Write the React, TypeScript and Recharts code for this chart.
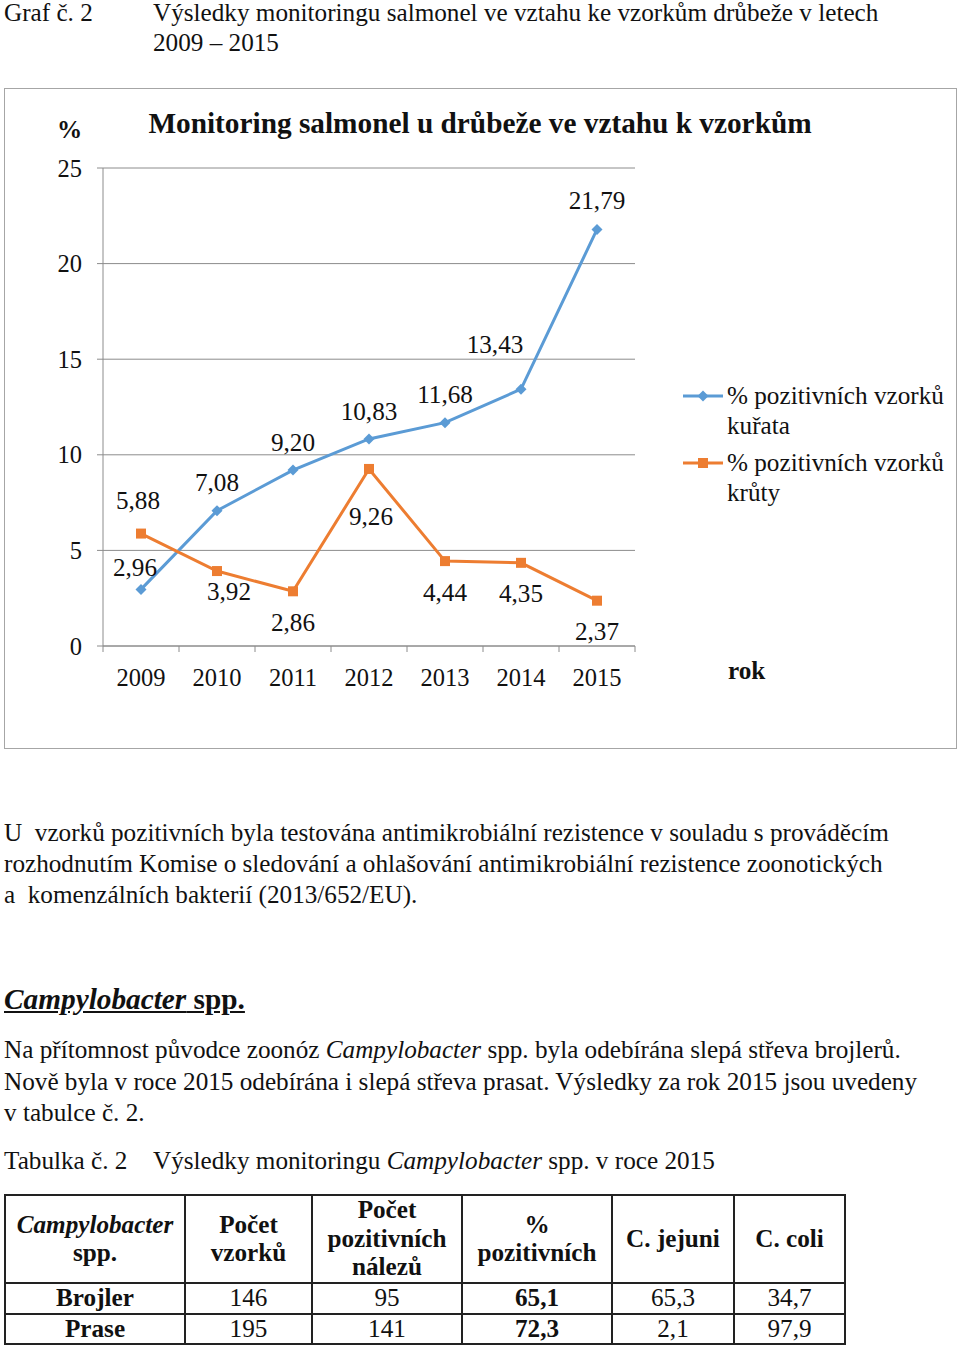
import React from "react";
import {
  LineChart,
  Line,
  XAxis,
  YAxis,
  CartesianGrid,
  Legend,
  LabelList,
} from "recharts";

const years = ["2009", "2010", "2011", "2012", "2013", "2014", "2015"];
const kurata = [2.96, 7.08, 9.2, 10.83, 11.68, 13.43, 21.79];
const kruty = [5.88, 3.92, 2.86, 9.26, 4.44, 4.35, 2.37];
const yTicks = [0, 5, 10, 15, 20, 25];

// table
const tableRows = ["Brojler", "Prase"];
const pocetVzorku = [146, 195];
const pocetPozitivnich = [95, 141];
const procentoPozitivnich = ["65,1", "72,3"];
const jejuni = ["65,3", "2,1"];
const coli = ["34,7", "97,9"];

// label placement (dx, dy from the point to the label centre)
const kurataLabelShift = [[-6, -22], [0, -28], [0, -28], [0, -28], [0, -28], [-26, -45], [0, -29]];
const krutyLabelShift = [[-3, -33], [12, 20], [0, 31], [2, 47], [0, 31], [0, 30], [0, 30]];
const legendOrder = ["kurata", "kruty"];

const SERIF = "'Liberation Serif', 'Times New Roman', serif";
const FS = 25.2;
const BLUE = "#5B9BD5";
const ORANGE = "#ED7D31";
const GRID = "#8c8c8c";
const TEXT = "#111";

const CHART_W = 960;
const CHART_H = 760;
const MARGIN = { top: 168, right: 325, bottom: 74, left: 53 };
const Y_AXIS_W = 50;
const X_AXIS_H = 40;
const PLOT_W = CHART_W - MARGIN.left - MARGIN.right - Y_AXIS_W;
const BAND = PLOT_W / years.length;
const X_TICK_MARGIN = 23;

const data = years.map((year, i) => ({ year, kurata: kurata[i], kruty: kruty[i] }));

const fmt = (v: number) => v.toFixed(2).replace(".", ",");

const Diamond = (props: any) => {
  const { cx, cy } = props;
  if (cx == null || cy == null) return null;
  const r = 5.5;
  return (
    <polygon
      points={`${cx},${cy - r} ${cx + r},${cy} ${cx},${cy + r} ${cx - r},${cy}`}
      fill={BLUE}
    />
  );
};

const Square = (props: any) => {
  const { cx, cy } = props;
  if (cx == null || cy == null) return null;
  return <rect x={cx - 5} y={cy - 5} width={10} height={10} fill={ORANGE} />;
};

const makeLabel = (shift: number[][]) => (props: any) => {
  const { x, y, value, index } = props;
  if (x == null || y == null) return null;
  const [dx, dy] = shift[index] || [0, -28];
  return (
    <text
      x={x + dx}
      y={y + dy}
      dy="0.35em"
      textAnchor="middle"
      fontFamily={SERIF}
      fontSize={FS}
      fill={TEXT}
    >
      {fmt(Number(value))}
    </text>
  );
};

const YearTick = (props: any) => {
  const { x, y, payload, index } = props;
  const axisY = y - X_TICK_MARGIN;
  return (
    <g>
      <line x1={x - BAND / 2} y1={axisY} x2={x - BAND / 2} y2={axisY + 6} stroke={GRID} />
      {index === years.length - 1 && (
        <line x1={x + BAND / 2} y1={axisY} x2={x + BAND / 2} y2={axisY + 6} stroke={GRID} />
      )}
      <text x={x} y={y} dy="0.71em" textAnchor="middle" fontFamily={SERIF} fontSize={24.5} fill={TEXT}>
        {payload.value}
      </text>
    </g>
  );
};

const LegendContent = (props: any) => {
  const items = [...(props.payload || [])].sort(
    (a: any, b: any) => legendOrder.indexOf(a.dataKey) - legendOrder.indexOf(b.dataKey)
  );
  return (
    <div style={{ fontFamily: SERIF, fontSize: FS, lineHeight: "29.5px", color: TEXT }}>
      {items.map((item: any) => (
        <div key={item.value} style={{ display: "flex", alignItems: "flex-start", marginBottom: 8 }}>
          <svg width={46} height={29} style={{ flex: "none" }}>
            <line x1={2} y1={15} x2={42} y2={15} stroke={item.color} strokeWidth={3} />
            {item.dataKey === "kurata" ? (
              <polygon points="22,9.5 27.5,15 22,20.5 16.5,15" fill={BLUE} />
            ) : (
              <rect x={17} y={10} width={10} height={10} fill={ORANGE} />
            )}
          </svg>
          <div style={{ width: 228 }}>{item.value}</div>
        </div>
      ))}
    </div>
  );
};

const abs = (top: number, left: number, extra: React.CSSProperties = {}): React.CSSProperties => ({
  position: "absolute",
  top,
  left,
  whiteSpace: "nowrap",
  ...extra,
});

const cell: React.CSSProperties = {
  border: "2px solid #222",
  textAlign: "center",
  padding: 0,
  lineHeight: "28.5px",
};

export default function App() {
  return (
    <div
      style={{
        position: "absolute",
        left: 0,
        top: 0,
        width: 960,
        height: 1347,
        background: "#fff",
        fontFamily: SERIF,
        fontSize: FS,
        color: TEXT,
        overflow: "hidden",
      }}
    >
      <div style={abs(0, 4, { lineHeight: "25px" })}>Graf č. 2</div>
      <div style={abs(0, 153, { lineHeight: "25px" })}>
        Výsledky monitoringu salmonel ve vztahu ke vzorkům drůbeže v letech
      </div>
      <div style={abs(30, 153, { lineHeight: "25px" })}>2009 – 2015</div>

      <div
        style={{
          position: "absolute",
          left: 4,
          top: 88,
          width: 951,
          height: 659,
          border: "1.5px solid #a6a6a6",
        }}
      />

      <div style={{ position: "absolute", left: 0, top: 0 }}>
        <LineChart width={CHART_W} height={CHART_H} data={data} margin={MARGIN}>
          <CartesianGrid vertical={false} stroke={GRID} />
          <XAxis
            dataKey="year"
            height={X_AXIS_H}
            padding={{ left: BAND / 2, right: BAND / 2 }}
            axisLine={{ stroke: GRID }}
            tickLine={false}
            tickSize={0}
            tickMargin={X_TICK_MARGIN}
            tick={<YearTick />}
            interval={0}
          />
          <YAxis
            width={Y_AXIS_W}
            domain={[0, 25]}
            ticks={yTicks}
            axisLine={{ stroke: GRID }}
            tickLine={{ stroke: GRID }}
            tickSize={6}
            tickMargin={15}
            tick={{ fontFamily: SERIF, fontSize: 24.5, fill: TEXT }}
          />
          <Legend
            layout="vertical"
            align="center"
            verticalAlign="middle"
            width={278}
            wrapperStyle={{ left: 681, top: 381 }}
            content={<LegendContent />}
          />
          <Line
            dataKey="kurata"
            name="% pozitivních vzorků kuřata"
            stroke={BLUE}
            strokeWidth={3}
            dot={<Diamond />}
            isAnimationActive={false}
          >
            <LabelList dataKey="kurata" content={makeLabel(kurataLabelShift)} />
          </Line>
          <Line
            dataKey="kruty"
            name="% pozitivních vzorků krůty"
            stroke={ORANGE}
            strokeWidth={3}
            dot={<Square />}
            isAnimationActive={false}
          >
            <LabelList dataKey="kruty" content={makeLabel(krutyLabelShift)} />
          </Line>
        </LineChart>
      </div>

      <div style={abs(106, 0, { width: 960, textAlign: "center", fontWeight: "bold", fontSize: 29.3, lineHeight: "34px" })}>
        Monitoring salmonel u drůbeže ve vztahu k vzorkům
      </div>
      <div style={abs(115, 57, { fontWeight: "bold", lineHeight: "30px" })}>%</div>
      <div style={abs(656, 728, { fontWeight: "bold", lineHeight: "30px" })}>rok</div>

      <div style={abs(817, 4, { lineHeight: "31px" })}>
        U&nbsp; vzorků pozitivních byla testována antimikrobiální rezistence v souladu s prováděcím
        <br />
        rozhodnutím Komise o sledování a ohlašování antimikrobiální rezistence zoonotických
        <br />
        a&nbsp; komenzálních bakterií (2013/652/EU).
      </div>

      <div style={abs(982, 4, { fontWeight: "bold", fontSize: 29.3, lineHeight: "34px", textDecoration: "underline" })}>
        <i>Campylobacter</i> spp.
      </div>

      <div style={abs(1034, 4, { lineHeight: "31.5px" })}>
        Na přítomnost původce zoonóz <i>Campylobacter</i> spp. byla odebírána slepá střeva brojlerů.
        <br />
        Nově byla v roce 2015 odebírána i slepá střeva prasat. Výsledky za rok 2015 jsou uvedeny
        <br />v tabulce č. 2.
      </div>

      <div style={abs(1146, 4, { lineHeight: "30px" })}>Tabulka č. 2</div>
      <div style={abs(1146, 153, { lineHeight: "30px" })}>
        Výsledky monitoringu <i>Campylobacter</i> spp. v roce 2015
      </div>

      <table
        style={{
          position: "absolute",
          left: 4,
          top: 1194,
          borderCollapse: "collapse",
          fontFamily: SERIF,
          fontSize: FS,
          color: TEXT,
          tableLayout: "fixed",
          width: 840,
        }}
      >
        <colgroup>
          <col style={{ width: 180 }} />
          <col style={{ width: 127 }} />
          <col style={{ width: 150 }} />
          <col style={{ width: 150 }} />
          <col style={{ width: 122 }} />
          <col style={{ width: 111 }} />
        </colgroup>
        <thead>
          <tr style={{ height: 88, fontWeight: "bold" }}>
            <th style={cell}>
              <i>Campylobacter</i>
              <br />
              spp.
            </th>
            <th style={cell}>
              Počet
              <br />
              vzorků
            </th>
            <th style={cell}>
              Počet
              <br />
              pozitivních
              <br />
              nálezů
            </th>
            <th style={cell}>
              %
              <br />
              pozitivních
            </th>
            <th style={cell}>C. jejuni</th>
            <th style={cell}>C. coli</th>
          </tr>
        </thead>
        <tbody>
          {tableRows.map((row, i) => (
            <tr key={row} style={{ height: 30 }}>
              <td style={{ ...cell, fontWeight: "bold" }}>{row}</td>
              <td style={cell}>{pocetVzorku[i]}</td>
              <td style={cell}>{pocetPozitivnich[i]}</td>
              <td style={{ ...cell, fontWeight: "bold" }}>{procentoPozitivnich[i]}</td>
              <td style={cell}>{jejuni[i]}</td>
              <td style={cell}>{coli[i]}</td>
            </tr>
          ))}
        </tbody>
      </table>
    </div>
  );
}
